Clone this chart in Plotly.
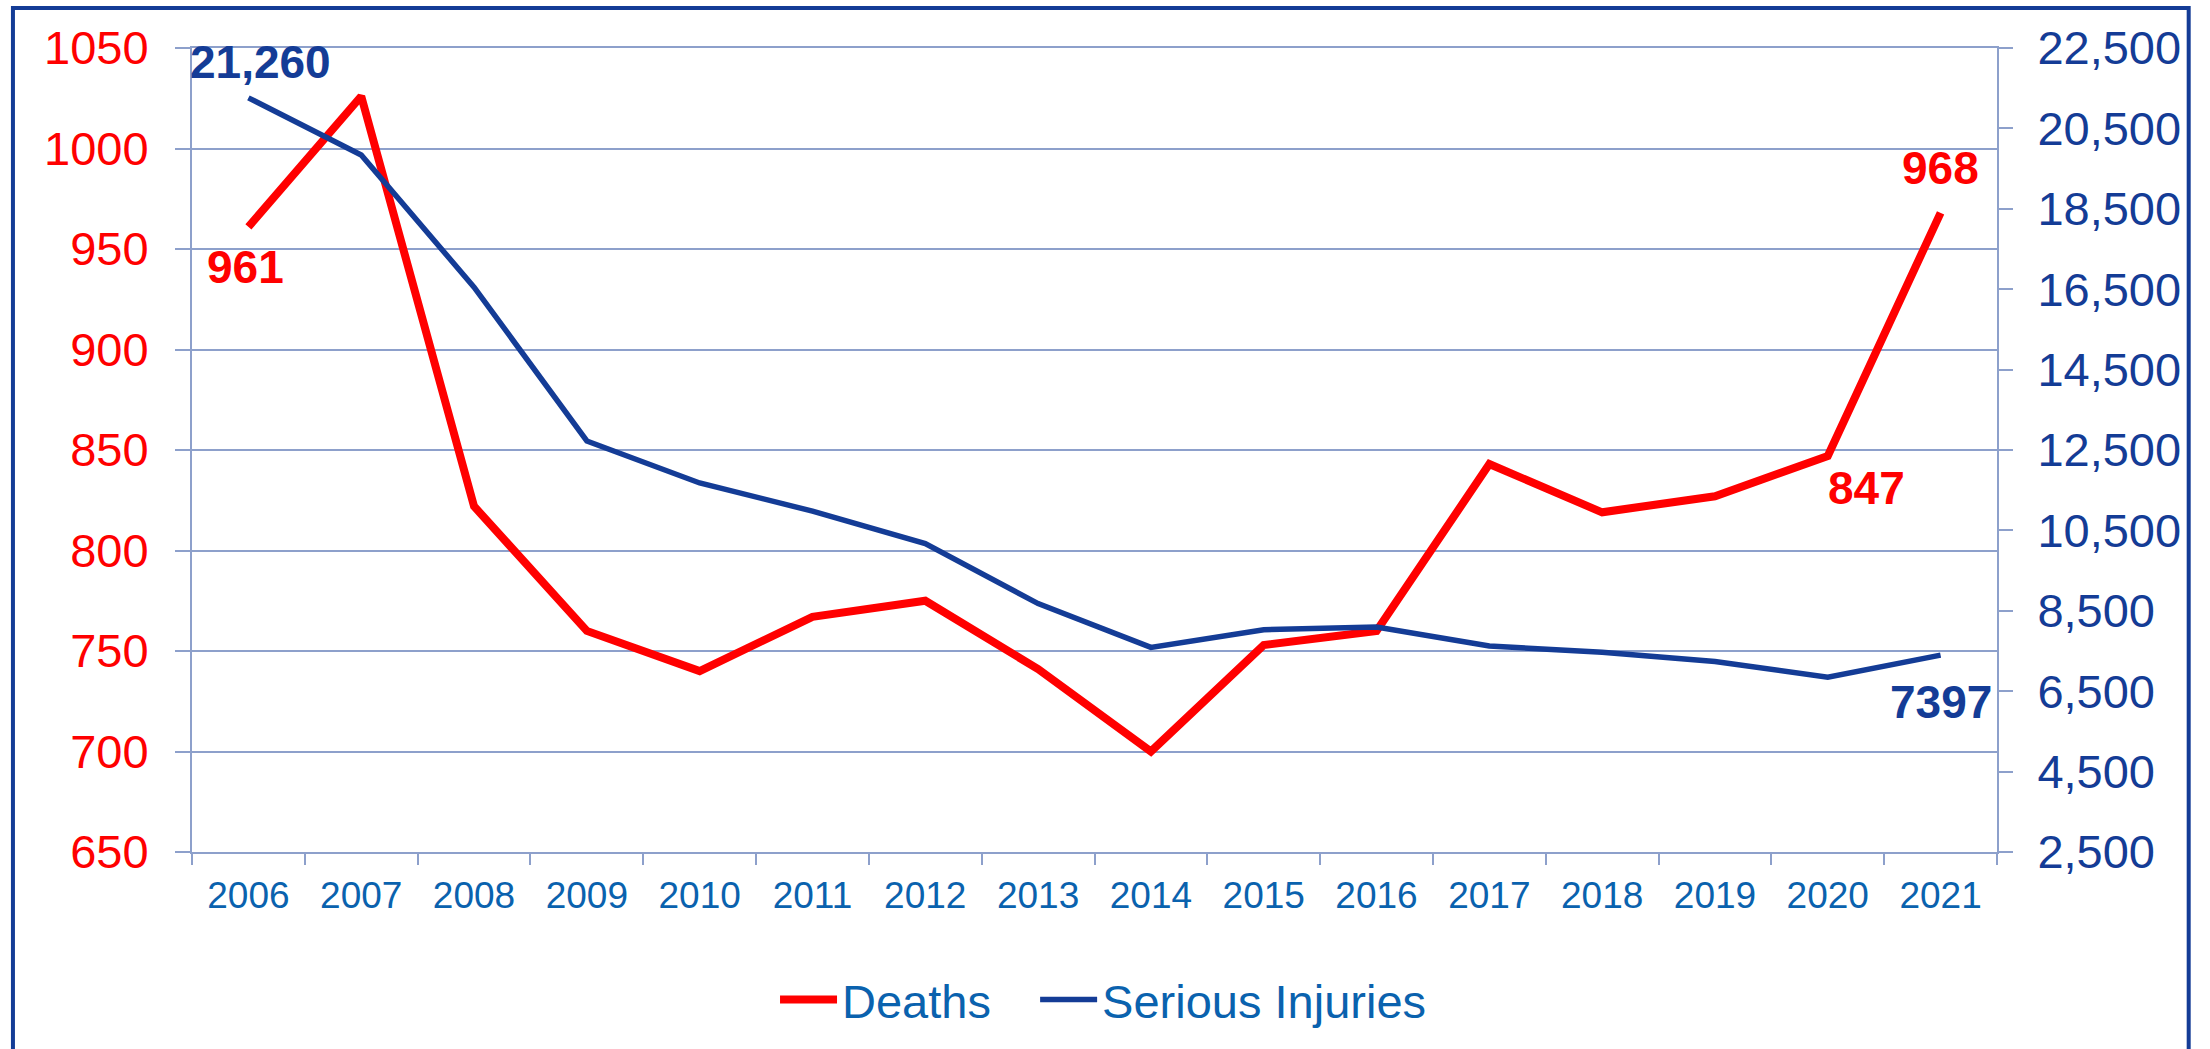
import plotly.graph_objects as go

# ---- data ----
years = ["2006", "2007", "2008", "2009", "2010", "2011", "2012", "2013",
         "2014", "2015", "2016", "2017", "2018", "2019", "2020", "2021"]
deaths = [961, 1026, 822, 760, 740, 767, 775, 741, 700, 753, 760, 843, 819, 827, 847, 968]
serious_injuries = [21260, 19840, 16550, 12725, 11680, 10980, 10170, 8680,
                    7590, 8030, 8095, 7625, 7470, 7240, 6850, 7397]
left_ticks = [650, 700, 750, 800, 850, 900, 950, 1000, 1050]
right_ticks = [2500, 4500, 6500, 8500, 10500, 12500, 14500, 16500, 18500, 20500, 22500]
right_tick_labels = ["2,500", "4,500", "6,500", "8,500", "10,500", "12,500",
                     "14,500", "16,500", "18,500", "20,500", "22,500"]

RED = "#FF0000"
NAVY = "#143C96"
XBLUE = "#0A62AE"
GRID = "#8DA0CB"
FONT = "Liberation Sans, Arial, sans-serif"
NB = "\u00a0"

fig = go.Figure()
fig.add_trace(go.Scatter(x=years, y=deaths, name="Deaths" + NB * 3, mode="lines",
                         line=dict(color=RED, width=8), yaxis="y"))
fig.add_trace(go.Scatter(x=years, y=serious_injuries, name="Serious Injuries", mode="lines",
                         line=dict(color=NAVY, width=5.5), yaxis="y2"))

# data labels: (series values, index, text, colour, yref, xshift, yshift)
labels = [
    (serious_injuries, 0, "21,260", NAVY, "y2", 12, 36),
    (deaths, 0, "961", RED, "y", -3, -40),
    (deaths, 15, "968", RED, "y", 0, 45),
    (deaths, 14, "847", RED, "y", 39, -32),
    (serious_injuries, 15, "7397", NAVY, "y2", 0, -47),
]
for vals, i, txt, col, yref, xs, ys in labels:
    fig.add_annotation(x=i, y=vals[i], xref="x", yref=yref, text="<b>" + txt + "</b>",
                       showarrow=False, xshift=xs, yshift=ys,
                       xanchor="center", yanchor="middle",
                       font=dict(size=46, color=col, family=FONT))

# outer border
fig.add_shape(type="rect", xref="paper", yref="paper",
              x0=-0.0992, x1=1.1062, y0=-0.35, y1=1.0498,
              line=dict(color=NAVY, width=4), fillcolor="rgba(0,0,0,0)", layer="above")

fig.update_layout(
    width=2210, height=1049, autosize=False,
    margin=dict(l=192, r=213, t=48, b=197, pad=0),
    paper_bgcolor="white", plot_bgcolor="white",
    font=dict(family=FONT),
    showlegend=True,
    legend=dict(orientation="h", x=0.505, xanchor="center", y=-0.184, yanchor="middle",
                font=dict(size=47, color=XBLUE, family=FONT), itemwidth=57,
                bgcolor="rgba(0,0,0,0)"),
    xaxis=dict(type="category", showgrid=False, showline=True, mirror=True,
               linecolor=GRID, linewidth=2,
               ticks="outside", tickson="boundaries", ticklen=11, tickwidth=2, tickcolor=GRID,
               tickfont=dict(size=37, color=XBLUE, family=FONT), ticklabelstandoff=10,
               range=[-0.5, 15.5]),
    yaxis=dict(range=[650, 1050], tickvals=left_ticks, showgrid=True, gridcolor=GRID, gridwidth=2,
               showline=True, linecolor=GRID, linewidth=2, zeroline=False,
               ticks="outside", ticklen=15, tickwidth=2, tickcolor=GRID,
               tickfont=dict(size=47, color=RED, family=FONT), ticklabelstandoff=17),
    yaxis2=dict(range=[2500, 22500], overlaying="y", side="right", tickvals=right_ticks,
                ticktext=right_tick_labels, showgrid=False, showline=True, linecolor=GRID,
                linewidth=2, zeroline=False, ticks="outside", ticklen=14, tickwidth=2,
                tickcolor=GRID, tickfont=dict(size=47, color=NAVY, family=FONT),
                ticklabelstandoff=15),
)

fig.write_html("out.html", config={"displayModeBar": False},
               post_script="document.body.style.margin='0';document.body.style.padding='0';")
